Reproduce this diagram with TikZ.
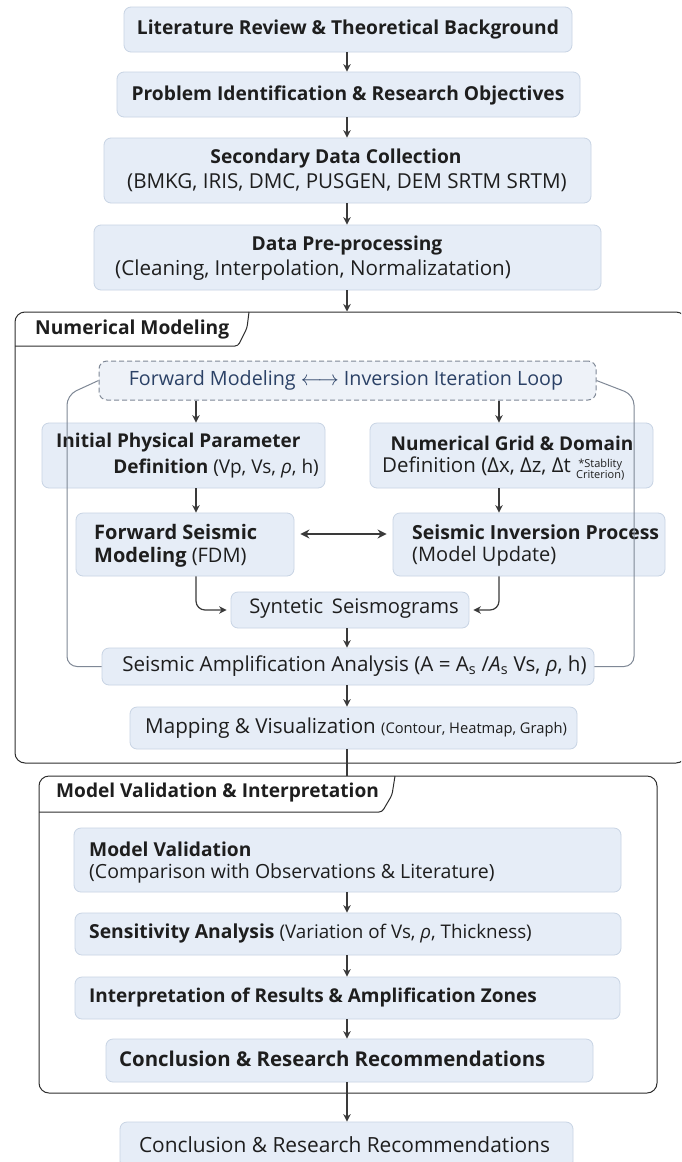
\documentclass[tikz,border=0pt]{standalone}
\usepackage{fontspec}
\setmainfont{Open Sans}
\usetikzlibrary{arrows.meta}
\definecolor{boxfill}{HTML}{E6EDF7}
\definecolor{boxline}{HTML}{C8D4E4}
\definecolor{txt}{HTML}{1E1E1E}
\definecolor{loopblue}{HTML}{2B4166}
\definecolor{arr}{HTML}{3A3A3A}
\definecolor{framec}{HTML}{2E2E2E}
\definecolor{loopfill}{HTML}{EEF2F8}
\definecolor{loopline}{HTML}{7F8896}
\newcommand{\myhf}{\fontsize{19.2}{22}\selectfont\bfseries}
\newcommand{\myrf}{\fontsize{20.6}{23}\selectfont}
\newcommand{\fs}[1]{\fontsize{#1}{#1}\selectfont}
\begin{document}
\begin{tikzpicture}[x=1pt,y=-1pt,
  box/.style={draw=boxline, fill=boxfill, rounded corners=7pt, line width=0.8pt, inner sep=0pt},
  lbl/.style={inner sep=0pt, text=txt},
  flow/.style={draw=arr, line width=1.2pt, -{Stealth[length=7.5pt,width=7.5pt]}},
  plain/.style={draw=arr, line width=1.2pt},
  frameline/.style={draw=framec, line width=1pt},
  loopln/.style={draw=loopline, line width=1pt, rounded corners=10pt},
]
\useasboundingbox (0,0) rectangle (681,1162);
\clip (0,0) rectangle (681,1162);
\fill[white] (0,0) rectangle (681,1162);

\coordinate (mx) at (347,0);
\coordinate (lx) at (196,0);
\coordinate (rx) at (499,0);
\coordinate (lcol) at (67,0);
\coordinate (rcol) at (634,0);

% ---------- top chain ----------
\node[box, minimum width=448pt, minimum height=45pt] (b1) at (348,29.5) {};
\node[lbl] (t1) at (348,30) {\myhf Literature Review \& Theoretical Background};
\node[box, minimum width=463pt, minimum height=45pt] (b2) at (348.5,94.5) {};
\node[lbl] (t2) at (348,95) {\myhf Problem Identification \& Research Objectives};
\node[box, minimum width=487pt, minimum height=65pt] (b3) at (347.5,170.5) {};
\node[lbl] (t3a) at (336,159) {\myhf Secondary Data Collection};
\node[lbl] (t3b) at (347,183) {\myrf (BMKG, IRIS, DMC, PUSGEN, DEM SRTM SRTM)};
\node[box, minimum width=507pt, minimum height=65pt] (b4) at (347.5,257.5) {};
\node[lbl] (t4a) at (347,246) {\myhf Data Pre-processing};
\node[lbl, anchor=west] (t4b) at (115,270) {\myrf (Cleaning, Interpolation, Normalizatation)};

\draw[flow] (b1.south -| mx) -- (b2.north -| mx);
\draw[flow] (b2.south -| mx) -- (b3.north -| mx);
\draw[flow] (b3.south -| mx) -- (b4.north -| mx);

% ---------- Numerical modeling frame ----------
\node[draw=framec, line width=1pt, rounded corners=10pt, minimum width=671pt, minimum height=451pt, inner sep=0pt] (nm) at (350.5,537.5) {};
\draw[frameline, rounded corners=3pt] (15,346) -- (238,346) -- (247,328) -- (249,312);
\node[lbl, anchor=west] (nmt) at (35,330) {\fs{19.2}\bfseries Numerical Modeling};
\draw[flow] (b4.south -| mx) -- (nm.north -| mx);

\node[draw=loopline, dashed, dash pattern=on 5pt off 3pt, fill=loopfill, rounded corners=8pt, line width=1pt, minimum width=497pt, minimum height=39pt, inner sep=0pt] (loop) at (347.5,380.5) {};
\node[lbl, text=loopblue] (loopt) at (346,380) {\fs{19.7}Forward Modeling $\longleftrightarrow$ Inversion Iteration Loop};

\node[box, minimum width=283pt, minimum height=65pt] (init) at (183.5,455.5) {};
\node[lbl, anchor=west] (initA) at (56,443) {\fs{19}\bfseries Initial Physical Parameter};
\node[lbl, anchor=east] (initB) at (319,469) {\fs{19}\textbf{Definition} (Vp, Vs, \textit{ρ}, h)};

\node[box, minimum width=283pt, minimum height=65pt] (grid) at (511.5,455.5) {};
\node[lbl] (gridA) at (512,443) {\fs{19}\bfseries Numerical Grid \& Domain};
\node[lbl, anchor=west] (gridB) at (382,469) {\fs{20.5}Definition (Δx, Δz, Δt \raisebox{-1pt}{\fs{11}\begin{tabular}{@{}c@{}}*Stablity\\[-1pt]Criterion)\end{tabular}}};

\node[box, minimum width=218pt, minimum height=63pt] (fwd) at (185,544.5) {};
\node[lbl, anchor=west] (fwdA) at (94,532) {\fs{20}\bfseries Forward Seismic};
\node[lbl, anchor=west] (fwdB) at (94,557) {\fs{20}\textbf{Modeling} (FDM)};

\node[box, minimum width=272pt, minimum height=63pt] (inv) at (529,544.5) {};
\node[lbl, anchor=west] (invA) at (412,532) {\fs{19.4}\bfseries Seismic Inversion Process};
\node[lbl, anchor=west] (invB) at (412,556) {\fs{20}(Model Update)};

\node[box, minimum width=238pt, minimum height=36pt] (syn) at (350,610) {};
\node[lbl] (synt) at (354,609) {\fs{20.2}Syntetic\, Seismograms};

\node[box, minimum width=492pt, minimum height=37pt] (amp) at (348,666.5) {};
\node[lbl] (ampt) at (354.5,666) {\fs{20.6}Seismic Amplification Analysis (A = A\textsubscript{s} /\textit{A}\textsubscript{s} Vs, \textit{ρ}, h)};

\node[box, minimum width=447pt, minimum height=42pt] (map) at (353.5,728) {};
\node[lbl, anchor=west] (mapt) at (145,728) {\fs{20.6}Mapping \& Visualization \fs{14.7}(Contour, Heatmap, Graph)};

\draw[flow] (loop.south -| lx) -- (init.north -| lx);
\draw[flow] (loop.south -| rx) -- (grid.north -| rx);
\draw[flow] (init.south -| lx) -- (fwd.north -| lx);
\draw[flow] (grid.south -| rx) -- (inv.north -| rx);
\draw[draw=arr, line width=1.4pt, {Stealth[length=9pt,width=9pt]}-{Stealth[length=9pt,width=9pt]}, shorten <=6pt, shorten >=6pt] (fwd.east |- 0,534) -- (inv.west |- 0,534);
\draw[flow, rounded corners=9pt, shorten >=4pt] (fwd.south -| lx) |- (syn.west);
\draw[flow, rounded corners=9pt, shorten >=4pt] (inv.south -| rx) |- (syn.east);
\draw[flow] (syn.south -| mx) -- (amp.north -| mx);
\draw[flow] (amp.south -| mx) -- (map.north -| mx);

\draw[loopln] (loop.west) -- (67,395) -- (lcol |- amp.west) -- (amp.west);
\draw[loopln] (loop.east) -- (634,395) -- (rcol |- amp.east) -- (amp.east);

% ---------- Validation frame ----------
\node[draw=framec, line width=1pt, rounded corners=10pt, minimum width=618pt, minimum height=317pt, inner sep=0pt] (mv) at (348,934.5) {};
\draw[frameline, rounded corners=3pt] (39,812) -- (382,812) -- (392,795) -- (395,776);
\node[lbl, anchor=west] (mvt) at (56,793) {\fs{19.1}\bfseries Model Validation \& Interpretation};
\draw[plain] (map.south -| mx) -- (mv.north -| mx);

\node[box, minimum width=547pt, minimum height=64pt] (val) at (347.5,860) {};
\node[lbl, anchor=west] (valA) at (89,849) {\fs{19.2}\bfseries Model Validation};
\node[lbl, anchor=west] (valB) at (89,873) {\fs{19.5}(Comparison with Observations \& Literature)};

\node[box, minimum width=546pt, minimum height=42pt] (sens) at (348,934) {};
\node[lbl, anchor=west] (senst) at (89,933) {\fs{19.3}\textbf{Sensitivity Analysis} \fs{18.8}(Variation of Vs, \textit{ρ}, Thickness)};

\node[box, minimum width=545pt, minimum height=42pt] (interp) at (347.5,998) {};
\node[lbl, anchor=west] (interpt) at (89,998) {\fs{19}\bfseries Interpretation of Results \& Amplification Zones};

\node[box, minimum width=487pt, minimum height=43pt] (conc) at (349.5,1060.5) {};
\node[lbl, anchor=west] (conct) at (119,1059) {\fs{20.4}\bfseries Conclusion \& Research Recommendations};

\draw[flow] (val.south -| mx) -- (sens.north -| mx);
\draw[flow] (sens.south -| mx) -- (interp.north -| mx);
\draw[flow] (interp.south -| mx) -- (conc.north -| mx);

\node[box, minimum width=453pt, minimum height=46pt] (final) at (346.5,1145) {};
\node[lbl] (finalt) at (344.5,1145) {\fs{20.9}Conclusion \& Research Recommendations};
\draw[flow] (conc.south -| mx) -- (final.north -| mx);
\end{tikzpicture}
\end{document}
